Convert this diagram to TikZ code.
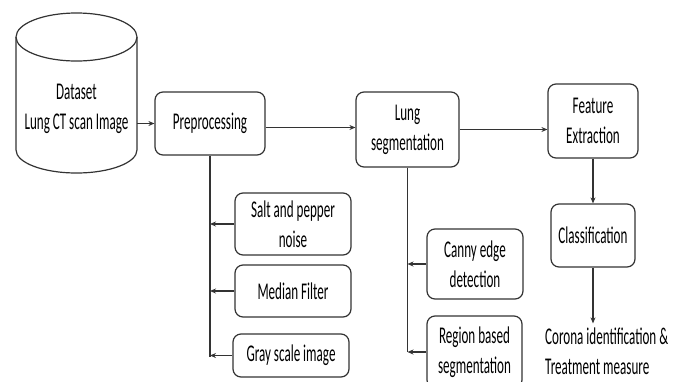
\documentclass[tikz,border=0pt]{standalone}
\usepackage{fontspec}
\setmainfont[FakeStretch=0.545]{Carlito}
\usetikzlibrary{arrows.meta}

\begin{document}
\begin{tikzpicture}[x=1pt,y=-1pt]
\tikzstyle{every node}+=[font=\fontsize{24}{30}\selectfont, align=center, inner sep=0pt]
\tikzstyle{stage}=[draw, rounded corners=8pt, line width=1.2pt, draw=black!80]
\tikzstyle{conn}=[line width=1.1pt, draw=black!80, -{Stealth[length=6pt,width=5pt]}]
\useasboundingbox (0,0) rectangle (680,381);
\clip (0,0) rectangle (680,381);
\draw [line width=1.2pt, draw=black!80] (16,37) -- (16,150) arc (180:0:60.5 and 23) -- (137,37);
\draw [line width=1.2pt, draw=black!80] (76.5,37) ellipse (60.5 and 24);
\node (data) [minimum width=121pt] at (76.5,109) {Dataset\\Lung CT scan Image};
\node (prep) [stage, minimum width=110pt, minimum height=63pt] at (210,123.5) {Preprocessing};
\node (lung) [stage, minimum width=103pt, minimum height=75pt] at (407.5,129.5) {Lung\\segmentation};
\node (feat) [stage, minimum width=90pt, minimum height=74pt] at (593,121) {Feature\\Extraction};
\node (cls) [stage, minimum width=84pt, minimum height=63pt] at (593,235.5) {Classification};
\node (corona) [align=left, inner sep=4pt, anchor=west] at (541,351) {Corona identification \&\\Treatment measure};
\node (salt) [stage, minimum width=116pt, minimum height=62pt] at (293,224) {Salt and pepper\\noise};
\node (median) [stage, minimum width=116pt, minimum height=52pt] at (293,291) {Median Filter};
\node (gray) [stage, minimum width=116pt, minimum height=43pt] at (291,355.5) {Gray scale image};
\node (canny) [stage, minimum width=96pt, minimum height=70pt] at (475,264) {Canny edge\\detection};
\node (region) [stage, minimum width=95pt, minimum height=72pt] at (474.5,352) {Region based\\segmentation};
\coordinate (prepend) at (210,357);
\coordinate (lungend) at (407.5,352);
\draw [conn] (data.east |- prep.west) -- (prep.west);
\draw [conn] ([yshift=-4pt]prep.east) -- ([yshift=-4pt]prep.east -| lung.west);
\draw [conn] (lung.east) -- (lung.east -| feat.west);
\draw [conn] (feat.south) -- (cls.north);
\draw [conn] (cls.south) -- (cls.south |- corona.north);
\draw [line width=1.1pt, draw=black!80] (prep.south) -- (prepend);
\draw [conn] (salt.west) -- (salt.west -| prep.south);
\draw [conn] (median.west) -- (median.west -| prep.south);
\draw [conn] (gray.west) -- (gray.west -| prep.south);
\draw [line width=1.1pt, draw=black!80] (lung.south) -- (lungend);
\draw [conn] (canny.west) -- (canny.west -| lung.south);
\draw [conn] (region.west) -- (region.west -| lung.south);
\end{tikzpicture}
\end{document}
